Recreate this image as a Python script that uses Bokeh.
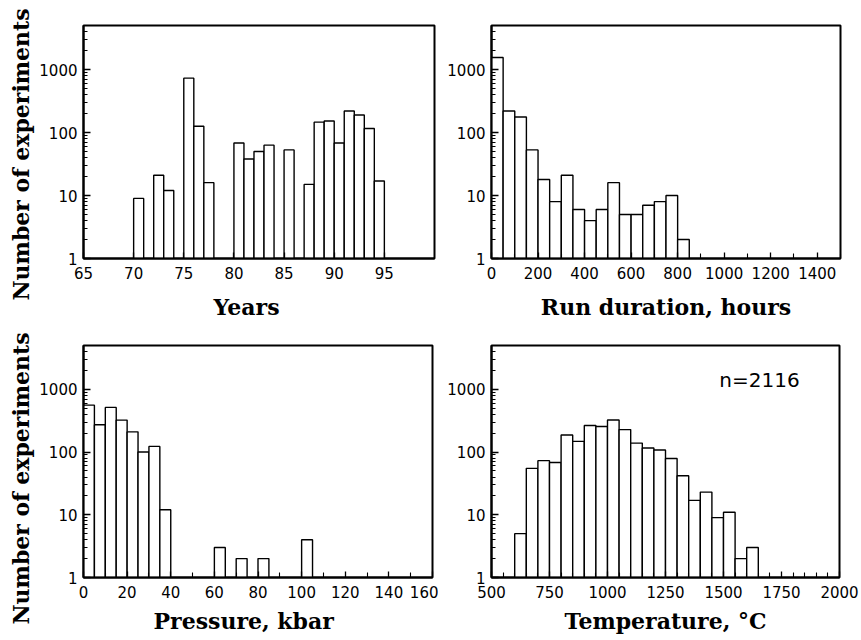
from bokeh.plotting import figure
from bokeh.layouts import gridplot
from bokeh.models import Range1d, FixedTicker, Label, NumeralTickFormatter, Title
from bokeh.embed import file_html
from bokeh.resources import INLINE

# ---------------- data ----------------
years_left = [70, 72, 73, 75, 76, 77, 80, 81, 82, 83, 85, 87, 88, 89, 90, 91, 92, 93, 94]
years_counts = [9, 21, 12, 730, 126, 16, 68, 38, 50, 63, 53, 15, 146, 152, 68, 219, 190, 116, 17]
years_width = 1

duration_left = [0, 50, 100, 150, 200, 250, 300, 350, 400, 450, 500, 550, 600, 650, 700, 750, 800]
duration_counts = [1550, 219, 176, 53, 18, 8, 21, 6, 4, 6, 16, 5, 5, 7, 8, 10, 2]
duration_width = 50

pressure_left = [0, 5, 10, 15, 20, 25, 30, 35, 60, 70, 80, 100]
pressure_counts = [560, 272, 515, 323, 210, 100, 123, 12, 3, 2, 2, 4]
pressure_width = 5

temp_left = [600, 650, 700, 750, 800, 850, 900, 950, 1000, 1050, 1100, 1150,
             1200, 1250, 1300, 1350, 1400, 1450, 1500, 1550, 1600]
temp_counts = [5, 55, 73, 68, 187, 148, 265, 255, 325, 228, 139, 116,
               108, 79, 42, 17, 23, 9, 11, 2, 3]
temp_width = 50

years_ticks = [65, 70, 75, 80, 85, 90, 95]
duration_ticks = [0, 200, 400, 600, 800, 1000, 1200, 1400]
duration_minor = [100, 300, 500, 700, 900, 1100, 1300, 1500]
pressure_ticks = [0, 20, 40, 60, 80, 100, 120, 140, 160]
pressure_minor = [10, 30, 50, 70, 90, 110, 130, 150]
temp_ticks = [500, 750, 1000, 1250, 1500, 1750, 2000]
temp_minor = [550, 600, 650, 700, 800, 850, 900, 950, 1050, 1100, 1150, 1200,
              1300, 1350, 1400, 1450, 1550, 1600, 1650, 1700, 1800, 1850, 1900, 1950]

y_ticks = [1, 10, 100, 1000]
y_minor = [m * d for d in (1, 10, 100) for m in range(2, 10)] + [2000, 3000, 4000, 5000]

Y_LABEL = "Number of experiments"
N_TEXT = "n=2116"

SERIF = "DejaVu Serif"
SANS = "DejaVu Sans"


def panel(xr, xt, xm, lefts, width, counts, xlabel, xalign, xoff, xstand, ylabel, yoff,
          bl, br, bt, bb, fw, fh):
    p = figure(x_range=Range1d(*xr), y_range=Range1d(1, 5000), y_axis_type="log",
               frame_width=fw, frame_height=fh,
               min_border_left=bl, min_border_right=br,
               min_border_top=bt, min_border_bottom=bb,
               output_backend="svg", toolbar_location=None)
    p.grid.visible = False
    p.outline_line_color = "black"
    p.outline_line_width = 2
    p.background_fill_color = "white"
    p.border_fill_color = "white"

    rights = [l + width for l in lefts]
    p.quad(left=lefts, right=rights, top=counts, bottom=1,
           fill_color="white", line_color="black", line_width=1.4)

    for ax in (p.xaxis[0], p.yaxis[0]):
        ax.axis_line_color = "black"
        ax.axis_line_width = 2
        ax.major_tick_line_color = "black"
        ax.minor_tick_line_color = "black"
        ax.major_tick_line_width = 1.3
        ax.minor_tick_line_width = 1.1
        ax.major_tick_out = 0
        ax.minor_tick_out = 0
        ax.major_label_text_font = SANS
        ax.major_label_text_font_size = "15px"
        ax.major_label_text_color = "black"

    xa = p.xaxis[0]
    xa.ticker = FixedTicker(ticks=xt, minor_ticks=xm)
    xa.major_tick_in = 6
    xa.minor_tick_in = 5
    xa.major_label_standoff = 8

    ya = p.yaxis[0]
    ya.ticker = FixedTicker(ticks=y_ticks, minor_ticks=y_minor)
    ya.formatter = NumeralTickFormatter(format="0")
    ya.major_tick_in = 7
    ya.minor_tick_in = 4
    ya.major_label_standoff = 6

    # axis titles as side-panel titles
    p.add_layout(Title(text=xlabel, align=xalign, offset=xoff, standoff=xstand,
                       text_font=SERIF, text_font_style="bold", text_font_size="22px",
                       text_color="black"), "below")
    if ylabel:
        p.add_layout(Title(text=ylabel, align="left", offset=yoff, standoff=6,
                           text_font=SERIF, text_font_style="bold",
                           text_font_size="22px", text_color="black"), "left")
    return p


p1 = panel((65, 100), years_ticks, [], years_left, years_width, years_counts,
           "Years", "left", 130, 21, Y_LABEL, -42, 81, 6, 25, 73, 351, 233)
p2 = panel((0, 1500), duration_ticks, duration_minor, duration_left, duration_width,
           duration_counts, "Run duration, hours", "center", 0, 21, None, 0,
           52, 22, 25, 73, 349, 233)
p3 = panel((0, 160), pressure_ticks, pressure_minor, pressure_left, pressure_width,
           pressure_counts, "Pressure, kbar", "left", 70, 11, Y_LABEL, -47,
           83, 6, 14, 63, 349, 232)
p4 = panel((500, 2000), temp_ticks, temp_minor, temp_left, temp_width, temp_counts,
           "Temperature, °C", "center", 0, 11, None, 0, 53, 22, 14, 63, 348, 232)

p4.add_layout(Label(x=1655, y=1400, text=N_TEXT, text_align="center",
                    text_baseline="middle", text_font=SANS,
                    text_font_size="20px", text_color="black"))

grid = gridplot([[p1, p2], [p3, p4]], toolbar_location=None)

open("out.html", "w").write(file_html(grid, INLINE))
